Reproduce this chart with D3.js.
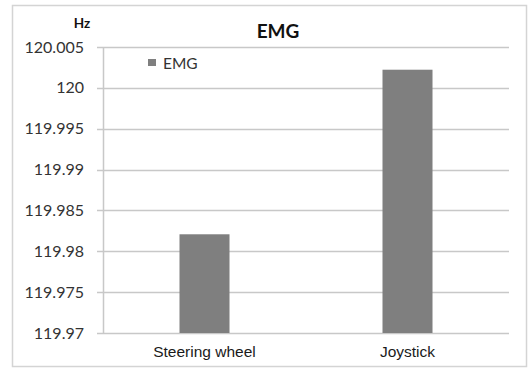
<!DOCTYPE html>
<html><head><meta charset="utf-8">
<script src="https://cdn.jsdelivr.net/npm/d3@7"></script>
<style>body{margin:0;background:#fff}svg{display:block}</style>
</head><body>
<svg id="c" width="528" height="369"></svg>
<script>
const categories = ["Steering wheel", "Joystick"];
const values = [119.98208, 120.00222];
const yTicks = [119.97, 119.975, 119.98, 119.985, 119.99, 119.995, 120, 120.005];
const yTickLabels = ["119.97","119.975","119.98","119.985","119.99","119.995","120","120.005"];
const seriesName = "EMG";
const titleText = "EMG";
const unitText = "Hz";

const svg = d3.select("#c");
svg.append("rect").attr("x",12.5).attr("y",5.5).attr("width",514).attr("height",361)
  .attr("fill","#fff").attr("stroke","#d4d4d4").attr("stroke-width",1.5);

const m = {l:103, r:509, t:47, b:333};
const x = d3.scaleBand().domain(categories).range([m.l, m.r]).paddingInner(0).paddingOuter(0);
const y = d3.scaleLinear().domain([119.97, 120.005]).range([m.b, m.t]);

svg.append("g").selectAll("line").data(yTicks).join("line")
  .attr("x1", m.l - 6).attr("x2", m.r)
  .attr("y1", d => Math.round(y(d)) + 0.5).attr("y2", d => Math.round(y(d)) + 0.5)
  .attr("stroke", "#c8c8c8").attr("stroke-width", 1.5);

svg.append("line").attr("x1", m.l + 0.5).attr("x2", m.l + 0.5).attr("y1", m.t).attr("y2", m.b)
  .attr("stroke", "#c8c8c8").attr("stroke-width", 1.5);

svg.append("g").selectAll("text").data(yTicks).join("text")
  .attr("x", 84).attr("y", d => y(d) + 5.5)
  .attr("text-anchor", "end").attr("font-family", "Lato, 'Open Sans', sans-serif")
  .attr("font-size", 16).attr("fill", "#333")
  .text((d, i) => yTickLabels[i]);

const bw = 50;
svg.append("g").selectAll("rect").data(values).join("rect")
  .attr("x", (d, i) => x(categories[i]) + x.bandwidth() / 2 - bw / 2)
  .attr("width", bw)
  .attr("y", d => y(d))
  .attr("height", d => y(119.97) - y(d))
  .attr("fill", "#7f7f7f");

svg.append("g").selectAll("text").data(categories).join("text")
  .attr("x", d => x(d) + x.bandwidth() / 2).attr("y", 357)
  .attr("text-anchor", "middle").attr("font-family", "'Liberation Sans', Arial, sans-serif")
  .attr("font-size", 15.5).attr("fill", "#1a1a1a")
  .text(d => d);

svg.append("text").attr("x", 278).attr("y", 38).attr("text-anchor", "middle")
  .attr("font-family", "Lato, 'Open Sans', sans-serif").attr("font-weight", "bold")
  .attr("font-size", 19).attr("fill", "#111").text(titleText);

svg.append("text").attr("x", 82).attr("y", 28).attr("text-anchor", "middle")
  .attr("font-family", "Lato, 'Open Sans', sans-serif").attr("font-weight", "bold")
  .attr("font-size", 13.5).attr("fill", "#111").text(unitText);

svg.append("rect").attr("x", 148).attr("y", 59).attr("width", 8).attr("height", 7).attr("fill", "#7f7f7f");
svg.append("text").attr("x", 163).attr("y", 69).attr("font-family", "Lato, 'Open Sans', sans-serif")
  .attr("font-size", 15.5).attr("fill", "#333").text(seriesName);
</script>
</body></html>
